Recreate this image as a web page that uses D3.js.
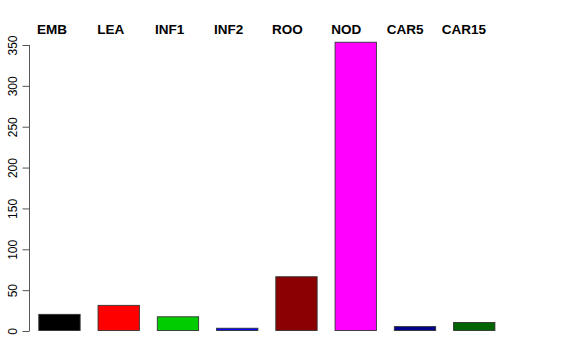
<!DOCTYPE html>
<html><head><meta charset="utf-8">
<script src="https://cdn.jsdelivr.net/npm/d3@7"></script>
<style>body{margin:0;background:#fff}svg{display:block}</style>
</head><body>
<svg id="c" width="576" height="360"></svg>
<script>
const categories = ["EMB","LEA","INF1","INF2","ROO","NOD","CAR5","CAR15"];
const values = [21, 32, 18, 4, 67, 354, 6, 11];
const colors = ["#000000","#FF0000","#00CD00","#0000FF","#8B0000","#FF00FF","#00008B","#006400"];
const yTicks = [0,50,100,150,200,250,300,350];

const svg = d3.select("#c");
const y = d3.scaleLinear().domain([0,350]).range([331,45]);
const x = d3.scaleBand().domain(categories).range([38.3,495.4]).paddingInner(0.2857).paddingOuter(0);
const xl = d3.scalePoint().domain(categories).range([52,464]);

svg.selectAll("rect.bar").data(values).enter().append("rect")
  .attr("class","bar")
  .attr("x",(d,i)=>x(categories[i])+0.5)
  .attr("y",d=>y(d)+0.5)
  .attr("width",x.bandwidth()-1)
  .attr("height",d=>y(0)-y(d)-1)
  .attr("fill",(d,i)=>colors[i])
  .attr("stroke","#333")
  .attr("stroke-width",0.9);

const ax = svg.append("g").attr("transform","translate(29.5,0)")
  .call(d3.axisLeft(y).tickValues(yTicks).tickSize(7).tickPadding(0).tickFormat(d3.format("d")));
ax.select(".domain").attr("stroke","#555").attr("d","M0,"+y(0)+"V"+y(350));
ax.selectAll(".tick line").attr("stroke","#555");
ax.selectAll(".tick text")
  .attr("font-family","Liberation Sans, Arial, sans-serif")
  .attr("font-size",12).attr("fill","#000")
  .attr("text-anchor","middle").attr("x",0).attr("dy",0)
  .attr("transform","translate(-13,0) rotate(-90)")
  .attr("dominant-baseline","auto");

svg.selectAll("text.lab").data(categories).enter().append("text")
  .attr("class","lab")
  .attr("x",d=>xl(d)).attr("y",34)
  .attr("text-anchor","middle")
  .attr("font-family","Liberation Sans, Arial, sans-serif")
  .attr("font-weight","bold").attr("font-size",13.5)
  .text(d=>d);
</script>
</body></html>
